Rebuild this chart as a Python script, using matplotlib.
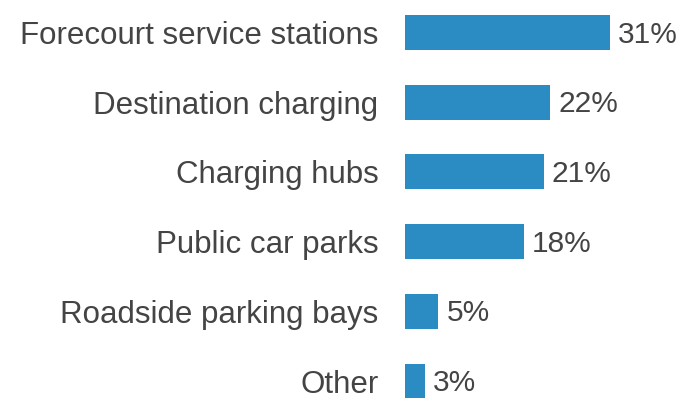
import matplotlib.pyplot as plt

categories = ['Forecourt service stations', 'Destination charging', 'Charging hubs',
              'Public car parks', 'Roadside parking bays', 'Other']
shares = [31, 22, 21, 18, 5, 3]

bar_color = '#2b8cc4'
text_color = '#444444'
plt.rcParams['font.family'] = ['Liberation Sans', 'DejaVu Sans']

fig = plt.figure(figsize=(6.84, 3.99), dpi=100)
ax = fig.add_axes([405 / 684, 0, 1 - 405 / 684, 1])

pos = list(range(len(categories)))
ax.barh(pos, shares, height=0.5, color=bar_color)

# px-per-percent scale of roughly 6.6, rows about 70 px apart
ax.set_xlim(0, (684 - 405) / 6.6)
ax.set_ylim(5.258, -0.466)

ax.set_yticks(pos)
ax.set_yticklabels(categories, fontsize=22.5, color=text_color)
ax.tick_params(axis='y', length=0, pad=19)
ax.set_xticks([])
for s in ax.spines.values():
    s.set_visible(False)

for y, v in zip(pos, shares):
    ax.annotate(f'{v}%', (v, y), xytext=(6, -1.5), textcoords='offset points',
                va='center', ha='left', fontsize=21.5, color=text_color)

fig.savefig('out.png', dpi=100)
